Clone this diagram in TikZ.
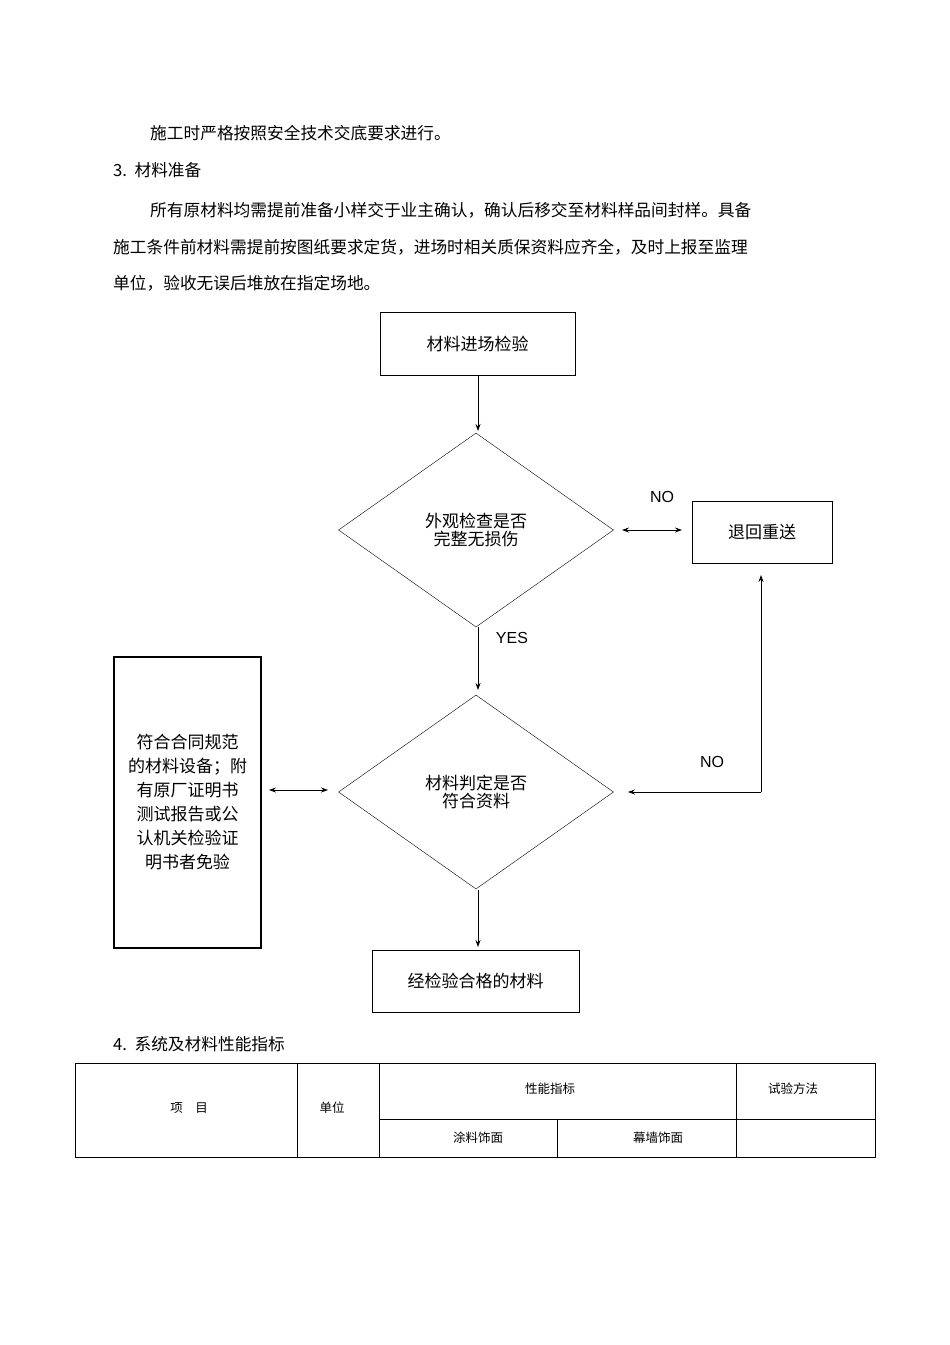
\documentclass[tikz,border=0pt]{standalone}
\usepackage{fontspec}
\setmainfont{Liberation Sans}
\newfontfamily\cjk{Noto Sans CJK SC}
\usetikzlibrary{shapes.geometric,arrows.meta}
\begin{document}
\begin{tikzpicture}[x=1pt,y=-1pt,
 txt/.style={font=\cjk\fontsize{16.7}{20}\selectfont,anchor=west,inner sep=0},
 box/.style={draw,line width=0.9pt,align=center,font=\cjk\fontsize{17}{20}\selectfont},
 dia/.style={draw,diamond,aspect=1.42,minimum width=275pt,minimum height=194pt,align=center,font=\cjk\fontsize{17}{18}\selectfont,inner sep=0},
 lab/.style={font=\fontsize{16}{18}\selectfont},
 arr/.style={-{Stealth[length=7pt,width=5pt]},line width=0.8pt},
 darr/.style={{Stealth[length=7pt,width=5pt]}-{Stealth[length=7pt,width=5pt]},line width=0.8pt},
 sm/.style={font=\cjk\fontsize{12.5}{14}\selectfont}]
\useasboundingbox (0,0) rectangle (950,1345);
\node[txt] (t1) at (150,133) {施工时严格按照安全技术交底要求进行。};
\node[txt] (t2) at (113,170) {3.\ \ 材料准备};
\node[txt] (t3) at (150,210) {所有原材料均需提前准备小样交于业主确认，确认后移交至材料样品间封样。具备};
\node[txt] (t4) at (113,247) {施工条件前材料需提前按图纸要求定货，进场时相关质保资料应齐全，及时上报至监理};
\node[txt] (t5) at (113,283) {单位，验收无误后堆放在指定场地。};
\node[box,minimum width=195pt,minimum height=63pt] (b1) at (477.5,343.5) {材料进场检验};
\node[dia] (d1) at (476,530) {外观检查是否\\完整无损伤};
\node[box,minimum width=140pt,minimum height=62pt] (b2) at (762,532) {退回重送};
\node[dia] (d2) at (476,792) {材料判定是否\\符合资料};
\node[box,line width=1.6pt,minimum width=147pt,minimum height=291pt,font=\cjk\fontsize{17}{24}\selectfont] (b3) at (187.5,802.5) {符合合同规范\\的材料设备；附\\有原厂证明书\\测试报告或公\\认机关检验证\\明书者免验};
\node[box,minimum width=207pt,minimum height=62pt] (b4) at (475.5,981) {经检验合格的材料};
\draw[arr] (b1.south -| 478,0) -- (478,431);
\draw[darr] (622,530) -- (682,530);
\node[lab] (no1) at (662,497) {NO};
\draw[arr] (478,627) -- (478,690);
\node[lab] (yes) at (512,638) {YES};
\coordinate (c1) at (761,792);
\draw[arr] (c1) -- (628,792);
\draw[arr] (c1) -- (761,575);
\node[lab] (no2) at (712,762) {NO};
\draw[darr] (269,790) -- (328,790);
\draw[arr] (478,890) -- (478,947);
\node[txt] (t6) at (113,1044) {4.\ \ 系统及材料性能指标};
\draw[line width=0.8pt] (75,1063) rectangle (875,1157);
\draw[line width=0.8pt] (297,1063)--(297,1157) (379,1063)--(379,1157) (736,1063)--(736,1157) (379,1119)--(875,1119) (557,1119)--(557,1157);
\node[sm] (h1) at (189,1108) {项\quad 目};
\node[sm] (h2) at (332,1108) {单位};
\node[sm] (h3) at (550,1089) {性能指标};
\node[sm] (h4) at (793,1089) {试验方法};
\node[sm] (h5) at (478,1138) {涂料饰面};
\node[sm] (h6) at (658,1138) {幕墙饰面};
\end{tikzpicture}
\end{document}
